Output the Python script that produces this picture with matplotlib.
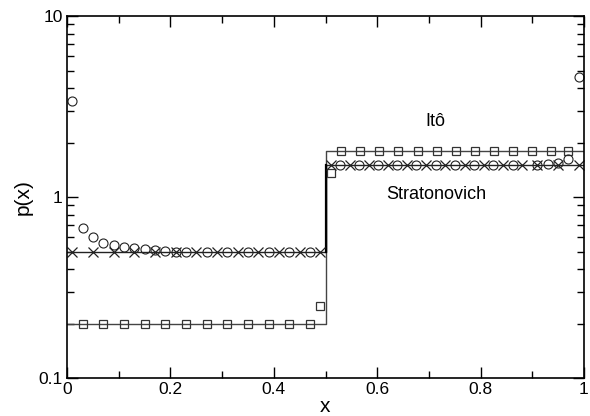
import numpy as np
import matplotlib.pyplot as plt
from matplotlib.ticker import LogLocator, MultipleLocator, FixedFormatter, FixedLocator, NullFormatter

plt.rcParams['font.family'] = ['Liberation Sans', 'DejaVu Sans']

# --- exact step densities ---
line_x = [0.0, 0.5, 0.5, 1.0]
ito_line = [0.2, 0.2, 1.8, 1.8]
strat_line = [0.5, 0.5, 1.5, 1.5]

# --- simulated points ---
sq_x = [0.03, 0.07, 0.11, 0.15, 0.19, 0.23, 0.27, 0.31, 0.35, 0.39, 0.43, 0.47, 0.49,
        0.51, 0.53, 0.567, 0.604, 0.641, 0.678, 0.715, 0.752, 0.789, 0.826, 0.863, 0.90, 0.937, 0.97]
sq_y = [0.2] * 12 + [0.25, 1.35] + [1.8] * 13

cr_x = [0.01, 0.05, 0.09, 0.13, 0.17, 0.21, 0.25, 0.29, 0.33, 0.37, 0.41, 0.45, 0.49,
        0.51, 0.547, 0.584, 0.621, 0.658, 0.695, 0.732, 0.769, 0.806, 0.843, 0.88, 0.91, 0.95, 0.99]
cr_y = [0.5] * 13 + [1.5] * 14

ci_x = [0.01, 0.03, 0.05, 0.07, 0.09, 0.11, 0.13, 0.15, 0.17, 0.19, 0.21, 0.23,
        0.27, 0.31, 0.35, 0.39, 0.43, 0.47,
        0.528, 0.565, 0.602, 0.639, 0.676, 0.713, 0.75, 0.787, 0.824, 0.862,
        0.91, 0.93, 0.95, 0.97, 0.99]
ci_y = [3.4, 0.67, 0.6, 0.56, 0.54, 0.527, 0.52, 0.514, 0.51, 0.505, 0.5, 0.5,
        0.5, 0.5, 0.5, 0.5, 0.5, 0.5,
        1.5, 1.5, 1.5, 1.5, 1.5, 1.5, 1.5, 1.5, 1.5, 1.5,
        1.5, 1.52, 1.55, 1.62, 4.6]

fig = plt.figure(figsize=(5.9, 4.16), dpi=100)
ax = fig.add_axes([0.1136, 0.0913, 0.8762, 0.8702])

ax.plot(line_x, ito_line, color='#444444', lw=1.0)
ax.plot(line_x, strat_line, color='#222222', lw=1.0)
ax.plot([0.5, 0.5], [0.5, 1.5], color='black', lw=1.6)

ax.plot(sq_x, sq_y, ls='none', marker='s', ms=5.5, mfc='none', mec='#333333', mew=0.9)
ax.plot(ci_x, ci_y, ls='none', marker='o', ms=6.5, mfc='none', mec='#222222', mew=0.8)
ax.plot(cr_x, cr_y, ls='none', marker='x', ms=6.5, mec='#222222', mew=0.9)

ax.set_yscale('log')
ax.set_xlim(0, 1)
ax.set_ylim(0.1, 10)

ax.xaxis.set_major_locator(FixedLocator([0, 0.2, 0.4, 0.6, 0.8, 1.0]))
ax.xaxis.set_major_formatter(FixedFormatter(['0', '0.2', '0.4', '0.6', '0.8', '1']))
ax.xaxis.set_minor_locator(MultipleLocator(0.1))
ax.yaxis.set_major_locator(FixedLocator([0.1, 1, 10]))
ax.yaxis.set_major_formatter(FixedFormatter(['0.1', '1', '10']))
ax.yaxis.set_minor_locator(LogLocator(base=10, subs=np.arange(2, 10)))
ax.yaxis.set_minor_formatter(NullFormatter())

ax.tick_params(which='both', direction='in', top=True, right=True, labelsize=12.5, pad=3)
ax.tick_params(which='major', length=8, width=1)
ax.tick_params(which='minor', length=5, width=1)
for s in ax.spines.values():
    s.set_linewidth(1.2)

ax.set_xlabel('x', fontsize=15, labelpad=0)
ax.set_ylabel('p(x)', fontsize=15, labelpad=4)

ax.text(0.712, 2.6, 'Itô', fontsize=13, ha='center', va='center')
ax.text(0.714, 1.03, 'Stratonovich', fontsize=13, ha='center', va='center')

fig.savefig('out.png', dpi=100)
